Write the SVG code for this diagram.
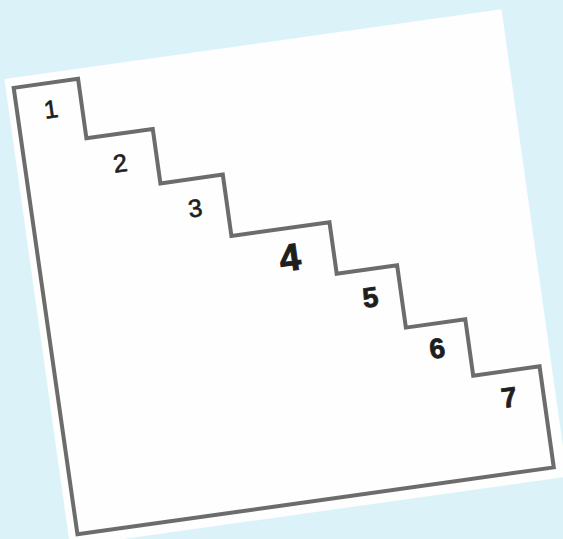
<svg xmlns="http://www.w3.org/2000/svg" width="563" height="539" viewBox="0 0 563 539">
  <style>
    .paper { fill: #fefefe; }
    .stair { fill: none; stroke: #6c6c6c; stroke-width: 4; stroke-linejoin: miter; }
    .num { font-family: "Liberation Sans", Arial, sans-serif; fill: #1e1e1e; stroke: #1e1e1e; text-anchor: middle; }
    .reg { font-size: 25px; font-weight: normal; stroke-width: 0.7; }
    .bold { font-size: 28px; font-weight: bold; stroke-width: 0.8; }
    .big { font-size: 38px; font-weight: bold; stroke-width: 1; }
  </style>
  <rect x="0" y="0" width="563" height="539" fill="#dbf3f8"/>
  <g id="sheet" transform="translate(12.7,88) rotate(-8)">
    <rect id="paper" class="paper" x="-7" y="-10" width="502" height="472"/>
    <path id="staircase" class="stair" d="M1,0 H66 V60 H133 V115 H196 V177 H295 V229 H356 V292 H416 V349 H483 V451 H2 Z"/>
    <g id="step1"><text class="num reg" x="35" y="35">1</text></g>
    <g id="step2"><text class="num reg" x="96" y="98">2</text></g>
    <g id="step3"><text class="num reg" x="164" y="153">3</text></g>
    <g id="step4"><text class="num big" x="251" y="219.5">4</text></g>
    <g id="step5"><text class="num bold" x="325" y="266.8">5</text></g>
    <g id="step6"><text class="num bold" x="384" y="326.6">6</text></g>
    <g id="step7"><text class="num bold" x="448.5" y="385.2">7</text></g>
  </g>
</svg>
